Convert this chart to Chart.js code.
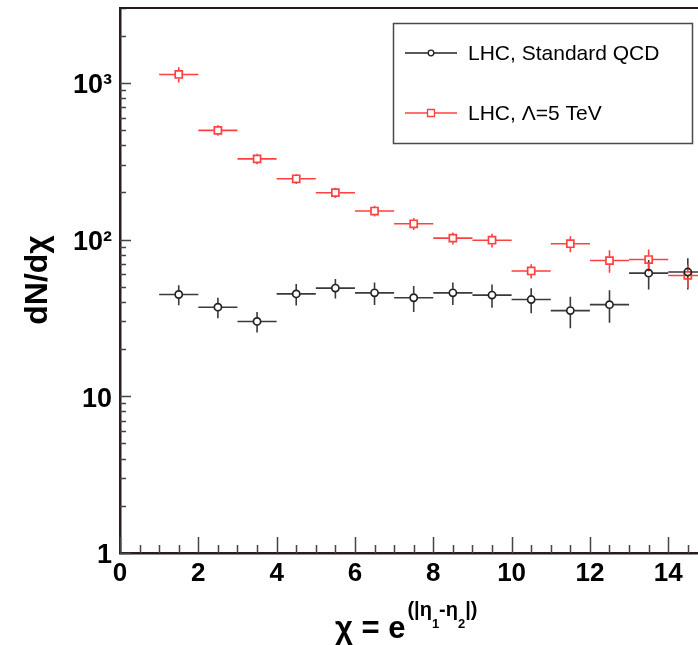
<!DOCTYPE html>
<html><head><meta charset="utf-8">
<script src="https://cdn.jsdelivr.net/npm/chart.js@4/dist/chart.umd.min.js"></script>
<style>html,body{margin:0;padding:0;background:#fff;overflow:hidden}</style>
</head><body>
<canvas id="c" width="698" height="645"></canvas>
<script>
// ---- data ----
const chiBins = [1.5, 2.5, 3.5, 4.5, 5.5, 6.5, 7.5, 8.5, 9.5, 10.5, 11.5, 12.5, 13.5, 14.5];
const binHalfWidth = 0.5;
const qcdValues = [44.6, 37, 30, 45, 49, 45.7, 42.5, 45.7, 44.2, 41.4, 35.2, 38.4, 61, 62];
const qcdErrors = [6.5, 5.5, 4.5, 7, 7, 7.5, 8, 7.5, 7.5, 7.5, 8, 9, 13, 14];
const ciValues = [1130, 497, 327, 244, 199, 152, 126, 102, 99, 63, 94, 73.4, 74.5, 59];
const ciErrors = [125, 38, 25, 18, 15, 12, 11, 9, 10, 6.5, 11, 12, 12, 10];
const seriesNames = ['LHC, Standard QCD', 'LHC, \u039B=5 TeV'];
const xMajorTicks = [0, 2, 4, 6, 8, 10, 12, 14];
const xTickLabels = ['0', '2', '4', '6', '8', '10', '12', '14'];
const yMajorTicks = [1, 10, 100, 1000];
const yTickLabels = ['1', '10', '10\u00B2', '10\u00B3'];
const xRange = [0, 14.76];
const yRange = [1, 3000];

const BLACK = '#222222', RED = '#ff4040', FRAME = '#2a1c1c';
const FONT = '"Liberation Sans", Arial, Helvetica, sans-serif';

const errorBars = {
  id: 'errorBars',
  beforeDatasetsDraw(chart) {
    const {ctx, chartArea: a, scales: {x, y}} = chart;
    ctx.save();
    ctx.beginPath(); ctx.rect(a.left, a.top, a.right - a.left, a.bottom - a.top); ctx.clip();
    const sets = [[qcdValues, qcdErrors, '#3a3a3a', 4], [ciValues, ciErrors, RED, 4]];
    sets.forEach(([vals, errs, col, gap]) => {
      ctx.strokeStyle = col; ctx.lineWidth = 1.6;
      vals.forEach((v, i) => {
        const px = x.getPixelForValue(chiBins[i]);
        const l = x.getPixelForValue(chiBins[i] - binHalfWidth);
        const r = x.getPixelForValue(chiBins[i] + binHalfWidth);
        const py = y.getPixelForValue(v);
        const t = y.getPixelForValue(v + errs[i]);
        const b = y.getPixelForValue(v - errs[i]);
        ctx.beginPath();
        ctx.moveTo(l, py); ctx.lineTo(px - gap, py);
        ctx.moveTo(px + gap, py); ctx.lineTo(r, py);
        if (py - t > gap) { ctx.moveTo(px, t); ctx.lineTo(px, py - gap); }
        if (b - py > gap) { ctx.moveTo(px, py + gap); ctx.lineTo(px, b); }
        ctx.stroke();
      });
    });
    ctx.restore();
  },
  afterDraw(chart) {
    const {ctx, chartArea: a, scales: {x, y}} = chart;
    ctx.save();
    // inner ticks
    ctx.strokeStyle = '#444'; ctx.lineWidth = 1.5;
    ctx.beginPath();
    for (let v = 0; v <= xRange[1]; v += 0.5) {
      const px = Math.round(x.getPixelForValue(v)) + 0.5;
      const len = (v % 2 === 0) ? 16 : 8;
      ctx.moveTo(px, a.bottom); ctx.lineTo(px, a.bottom - len);
    }
    for (let d = 1; d <= yRange[1]; d *= 10) {
      for (let m = 1; m <= 9; m++) {
        const v = d * m;
        if (v > yRange[1]) break;
        const py = Math.round(y.getPixelForValue(v)) + 0.5;
        const len = m === 1 ? 11 : 6;
        ctx.moveTo(a.left, py); ctx.lineTo(a.left + len, py);
      }
    }
    ctx.stroke();
    // top frame
    ctx.strokeStyle = FRAME; ctx.lineWidth = 2;
    ctx.beginPath(); ctx.moveTo(a.left, a.top); ctx.lineTo(a.right, a.top); ctx.stroke();

    // y title
    ctx.fillStyle = '#000';
    ctx.save();
    ctx.translate(38, 280); ctx.rotate(-Math.PI / 2);
    ctx.textAlign = 'center'; ctx.textBaseline = 'middle';
    ctx.font = 'bold 32px ' + FONT;
    ctx.fillText('dN/d\u03C7', 0, 0);
    ctx.restore();

    // x title: χ = e^(|η1-η2|)
    ctx.textBaseline = 'alphabetic'; ctx.textAlign = 'left';
    let cx = 335;
    const base = 638, supBase = 616, subBase = 628;
    const put = (txt, size, by) => { ctx.font = 'bold ' + size + 'px ' + FONT; ctx.fillText(txt, cx, by); cx += ctx.measureText(txt).width; };
    put('\u03C7 = e', 31, base);
    cx += 2;
    put('(|\u03B7', 20, supBase);
    put('1', 13, subBase);
    put('-\u03B7', 20, supBase);
    put('2', 13, subBase);
    put('|)', 20, supBase);

    // legend
    const L = {x: 393, y: 23, w: 299, h: 120};
    ctx.fillStyle = '#fff'; ctx.fillRect(L.x, L.y, L.w, L.h);
    ctx.strokeStyle = '#4a4a4a'; ctx.lineWidth = 1.5;
    ctx.strokeRect(L.x + 0.5, L.y + 0.5, L.w, L.h);
    const entries = [[seriesNames[0], BLACK, 'circle', 53], [seriesNames[1], RED, 'rect', 113]];
    entries.forEach(([name, col, st, ey]) => {
      ctx.strokeStyle = col; ctx.lineWidth = 1.3;
      ctx.beginPath(); ctx.moveTo(405, ey); ctx.lineTo(457, ey); ctx.stroke();
      ctx.fillStyle = '#fff';
      ctx.beginPath();
      if (st === 'circle') ctx.arc(431, ey, 2.8, 0, Math.PI * 2); else ctx.rect(427.5, ey - 3.5, 7, 7);
      ctx.fill(); ctx.stroke();
      ctx.fillStyle = '#000'; ctx.font = '21px ' + FONT; ctx.textBaseline = 'middle';
      ctx.fillText(name, 468, ey + 1);
    });
    ctx.restore();
  }
};

new Chart(document.getElementById('c'), {
  type: 'scatter',
  data: {
    datasets: [
      {label: seriesNames[0], data: chiBins.map((c, i) => ({x: c, y: qcdValues[i]})),
       pointStyle: 'circle', pointRadius: 3.6, pointBorderWidth: 1.7,
       borderColor: BLACK, backgroundColor: 'rgba(255,255,255,0)', showLine: false},
      {label: seriesNames[1], data: chiBins.map((c, i) => ({x: c, y: ciValues[i]})),
       pointStyle: 'rect', pointRadius: 5, pointBorderWidth: 1.7,
       borderColor: RED, backgroundColor: 'rgba(255,255,255,0)', showLine: false}
    ]
  },
  options: {
    responsive: false, animation: false, devicePixelRatio: 1,
    layout: {autoPadding: false, padding: {top: 8, left: 0, right: 0, bottom: 0}},
    plugins: {legend: {display: false}, tooltip: {enabled: false}},
    scales: {
      x: {
        type: 'linear', min: xRange[0], max: xRange[1],
        afterFit: s => { s.height = 92; s.paddingLeft = 0; s.paddingRight = 0; },
        afterBuildTicks: s => { s.ticks = xMajorTicks.map(v => ({value: v})); },
        grid: {display: false, drawTicks: false},
        border: {display: true, color: FRAME, width: 2.5},
        ticks: {autoSkip: false, maxRotation: 0, padding: 5, color: '#000',
                font: {family: FONT, size: 26, weight: 'bold'},
                callback: v => xTickLabels[xMajorTicks.indexOf(v)] ?? ''}
      },
      y: {
        type: 'logarithmic', min: yRange[0], max: yRange[1],
        afterFit: s => { s.width = 120; s.paddingTop = 0; s.paddingBottom = 0; },
        afterBuildTicks: s => { s.ticks = yMajorTicks.map(v => ({value: v})); },
        grid: {display: false, drawTicks: false},
        border: {display: true, color: FRAME, width: 2.5},
        ticks: {autoSkip: false, padding: 8, color: '#000', labelOffset: 3,
                font: {family: FONT, size: 27, weight: 'bold'},
                callback: v => yTickLabels[yMajorTicks.indexOf(v)] ?? ''}
      }
    }
  },
  plugins: [errorBars]
});
</script>
</body></html>
